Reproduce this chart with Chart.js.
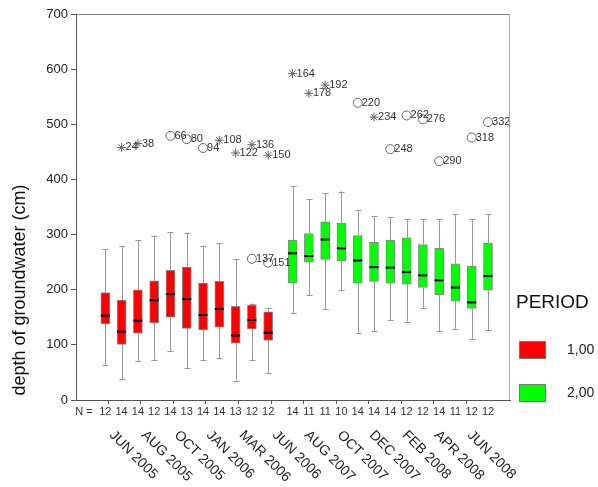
<!DOCTYPE html>
<html>
<head>
<meta charset="utf-8">
<style>
  body { margin: 0; background: #fff; }
  #wrap { width: 598px; height: 487px; }
</style>
</head>
<body>
<div id="wrap"><canvas id="boxChart"></canvas></div>

<script src="https://cdn.jsdelivr.net/npm/chart.js"></script>
<script>
// date labels under the x axis
const dateLabels = ['JUN 2005', 'AUG 2005', 'OCT 2005', 'JAN 2006', 'MAR 2006', 'JUN 2006',
  'AUG 2007', 'OCT 2007', 'DEC 2007', 'FEB 2008', 'APR 2008', 'JUN 2008']

// PERIOD 1,00 (red boxes)
const n1   = [12, 14, 14, 12, 14, 13, 14, 14, 13, 12, 12]
const min1 = [64, 38, 70, 73, 89, 58, 72, 76, 35, 72, 49]
const q1_1 = [138, 101, 121, 140, 150, 130, 127, 132, 103, 129, 108]
const med1 = [153, 124, 144, 181, 192, 183, 154, 165, 117, 145, 122]
const q3_1 = [195, 181, 200, 216, 235, 241, 212, 215, 170, 172, 160]
const max1 = [274, 279, 290, 298, 304, 303, 280, 284, 256, 175, 166]

// PERIOD 2,00 (green boxes)
const n2   = [14, 11, 11, 10, 14, 14, 14, 12, 12, 14, 11, 12, 12]
const min2 = [157, 190, 165, 199, 121, 125, 145, 142, 167, 125, 129, 111, 127]
const q1_2 = [212, 250, 255, 252, 212, 215, 212, 210, 204, 191, 179, 166, 200]
const med2 = [266, 261, 291, 275, 253, 241, 240, 232, 226, 217, 204, 177, 225]
const q3_2 = [290, 302, 323, 321, 298, 286, 290, 294, 282, 275, 247, 243, 284]
const max2 = [388, 364, 375, 378, 345, 334, 331, 328, 328, 328, 337, 328, 337]

// outliers: box number (0..23 over both periods), value, case id, marker kind
const outBox  = [1, 2, 4, 5, 6, 7, 8, 9, 9, 10, 10,
                 11, 12, 13, 15, 16, 17, 18, 19, 20, 22, 23]
const outVal  = [458, 465, 479, 473, 457, 471, 448, 463, 256, 444, 249,
                 592, 556, 571, 539, 513, 455, 516, 509, 433, 476, 504]
const outId   = ['24', '38', '66', '80', '94', '108', '122', '136', '137', '150', '151',
                 '164', '178', '192', '220', '234', '248', '262', '276', '290', '318', '332']
const outKind = ['x', 'x', 'o', 'o', 'o', 'x', 'x', 'x', 'o', 'x', 'o',
                 'x', 'x', 'x', 'o', 'x', 'o', 'o', 'o', 'o', 'o', 'o']

// x position of box number b (small gap between the two periods)
function boxX(b) {
  return b < n1.length ? b : b + 0.5
}

Chart.defaults.font.family = 'Liberation Sans, Arial, sans-serif'
Chart.defaults.color = '#222'

const redBoxes = min1.map((_, i) => ({x: boxX(i), y: [q1_1[i], q3_1[i]]}))
const greenBoxes = min2.map((_, i) => ({x: boxX(n1.length + i), y: [q1_2[i], q3_2[i]]}))

const circles = []
const stars = []
for (let i = 0; i < outVal.length; i++) {
  const p = {x: boxX(outBox[i]), y: outVal[i]}
  if (outKind[i] == 'o') circles.push(p)
  else stars.push(p)
}

const boxPlugin = {
  id: 'boxExtras',
  beforeDatasetsDraw: (chart) => {
    const {ctx} = chart
    const xs = chart.scales.x
    const ys = chart.scales.y
    const all = [
      [min1, q1_1, q3_1, max1, 0],
      [min2, q1_2, q3_2, max2, n1.length]
    ]
    ctx.save()
    ctx.strokeStyle = '#999'
    ctx.lineWidth = 1
    all.forEach(([mn, lo, hi, mx, off]) => {
      for (let i = 0; i < mn.length; i++) {
        const x = Math.round(xs.getPixelForValue(boxX(off + i))) + 0.5
        const yMin = ys.getPixelForValue(mn[i])
        const yMax = ys.getPixelForValue(mx[i])
        ctx.beginPath()
        ctx.moveTo(x, yMax)
        ctx.lineTo(x, ys.getPixelForValue(hi[i]))
        ctx.moveTo(x, ys.getPixelForValue(lo[i]))
        ctx.lineTo(x, yMin)
        ctx.moveTo(x - 3, Math.round(yMax) + 0.5)
        ctx.lineTo(x + 3, Math.round(yMax) + 0.5)
        ctx.moveTo(x - 3, Math.round(yMin) + 0.5)
        ctx.lineTo(x + 3, Math.round(yMin) + 0.5)
        ctx.stroke()
      }
    })
    ctx.restore()
  },
  afterDatasetsDraw: (chart) => {
    const {ctx} = chart
    const xs = chart.scales.x
    const ys = chart.scales.y
    const {top, bottom, left, right} = chart.chartArea
    ctx.save()

    // medians
    ctx.strokeStyle = '#000'
    ctx.lineWidth = 2
    const meds = med1.concat(med2)
    meds.forEach((m, b) => {
      const x = xs.getPixelForValue(boxX(b))
      const y = ys.getPixelForValue(m)
      ctx.beginPath()
      ctx.moveTo(x - 4.5, y)
      ctx.lineTo(x + 4.5, y)
      ctx.stroke()
    })

    // case numbers next to outliers
    ctx.fillStyle = '#333'
    ctx.font = '11px Liberation Sans, Arial, sans-serif'
    ctx.textAlign = 'left'
    ctx.textBaseline = 'middle'
    for (let i = 0; i < outVal.length; i++) {
      ctx.fillText(outId[i], xs.getPixelForValue(boxX(outBox[i])) + 4, ys.getPixelForValue(outVal[i]))
    }

    // frame top and right
    ctx.lineWidth = 1
    ctx.strokeStyle = '#808080'
    ctx.beginPath()
    ctx.moveTo(left, top + 0.5)
    ctx.lineTo(right, top + 0.5)
    ctx.stroke()
    ctx.strokeStyle = '#aaa'
    ctx.beginPath()
    ctx.moveTo(right - 0.5, top)
    ctx.lineTo(right - 0.5, bottom)
    ctx.stroke()

    // x tick marks and date labels
    ctx.strokeStyle = '#555'
    ctx.font = '14px Liberation Sans, Arial, sans-serif'
    ctx.fillStyle = '#222'
    dateLabels.forEach((lab, j) => {
      const x = Math.round(xs.getPixelForValue(0.15 + 2 * j)) + 0.5
      ctx.beginPath()
      ctx.moveTo(x, bottom)
      ctx.lineTo(x, bottom + 4)
      ctx.stroke()
      ctx.save()
      ctx.translate(x + 8, bottom + 28)
      ctx.rotate(Math.PI / 4)
      ctx.textAlign = 'left'
      ctx.textBaseline = 'top'
      ctx.fillText(lab, 0, 0)
      ctx.restore()
    })

    // N row
    ctx.font = '11px Liberation Sans, Arial, sans-serif'
    ctx.textAlign = 'center'
    ctx.textBaseline = 'middle'
    ctx.fillStyle = '#333'
    ctx.fillText('N =', left + 8, bottom + 12)
    n1.concat(n2).forEach((n, b) => {
      ctx.fillText(String(n), xs.getPixelForValue(boxX(b)), bottom + 12)
    })

    // y title
    ctx.save()
    ctx.translate(20, 290)
    ctx.rotate(-Math.PI / 2)
    ctx.font = '18px Liberation Sans, Arial, sans-serif'
    ctx.fillStyle = '#111'
    ctx.textAlign = 'center'
    ctx.fillText('depth of groundwater (cm)', 0, 0)
    ctx.restore()

    // legend
    ctx.textAlign = 'left'
    ctx.fillStyle = '#111'
    ctx.font = '19px Liberation Sans, Arial, sans-serif'
    ctx.fillText('PERIOD', right + 6, 303)
    const items = [['#ff0000', '1,00', 341], ['#00ff00', '2,00', 384]]
    ctx.font = '14px Liberation Sans, Arial, sans-serif'
    items.forEach(([col, txt, y]) => {
      ctx.fillStyle = col
      ctx.fillRect(right + 9, y, 27, 18)
      ctx.strokeStyle = '#777'
      ctx.strokeRect(right + 9.5, y + 0.5, 26, 17)
      ctx.fillStyle = '#222'
      ctx.fillText(txt, right + 57, y + 9)
    })

    ctx.restore()
  }
}

new Chart(document.getElementById('boxChart'), {
  type: 'bar',
  data: {
    datasets: [
      {
        type: 'bar',
        label: '1,00',
        data: redBoxes,
        backgroundColor: '#ff0000',
        borderColor: '#888',
        borderWidth: 1,
        borderSkipped: false,
        barThickness: 9,
        grouped: false
      },
      {
        type: 'bar',
        label: '2,00',
        data: greenBoxes,
        backgroundColor: '#00ff00',
        borderColor: '#888',
        borderWidth: 1,
        borderSkipped: false,
        barThickness: 9,
        grouped: false
      },
      {
        type: 'scatter',
        label: 'outliers',
        data: circles,
        pointStyle: 'circle',
        pointRadius: 4.5,
        backgroundColor: 'rgba(0,0,0,0)',
        borderColor: '#666',
        borderWidth: 1
      },
      {
        type: 'scatter',
        label: 'extremes',
        data: stars,
        pointStyle: 'star',
        pointRadius: 4.5,
        borderColor: '#666',
        borderWidth: 1
      }
    ]
  },
  options: {
    responsive: true,
    maintainAspectRatio: false,
    animation: false,
    layout: {
      padding: {left: 0, right: 88, top: 14, bottom: 0}
    },
    scales: {
      x: {
        type: 'linear',
        min: -1.8,
        max: 24.85,
        offset: false,
        ticks: {display: false},
        grid: {display: false, drawTicks: false, offset: false},
        border: {display: true, color: '#555'},
        afterFit: (s) => { s.height = 87 }
      },
      y: {
        min: 0,
        max: 700,
        ticks: {stepSize: 100, font: {size: 13}, color: '#222', padding: 3},
        grid: {drawOnChartArea: false, drawTicks: true, tickLength: 5, color: '#555'},
        border: {display: true, color: '#555'},
        afterFit: (s) => { s.width = 76 }
      }
    },
    plugins: {
      legend: {display: false},
      tooltip: {enabled: false}
    }
  },
  plugins: [boxPlugin]
})
</script>
</body>
</html>
